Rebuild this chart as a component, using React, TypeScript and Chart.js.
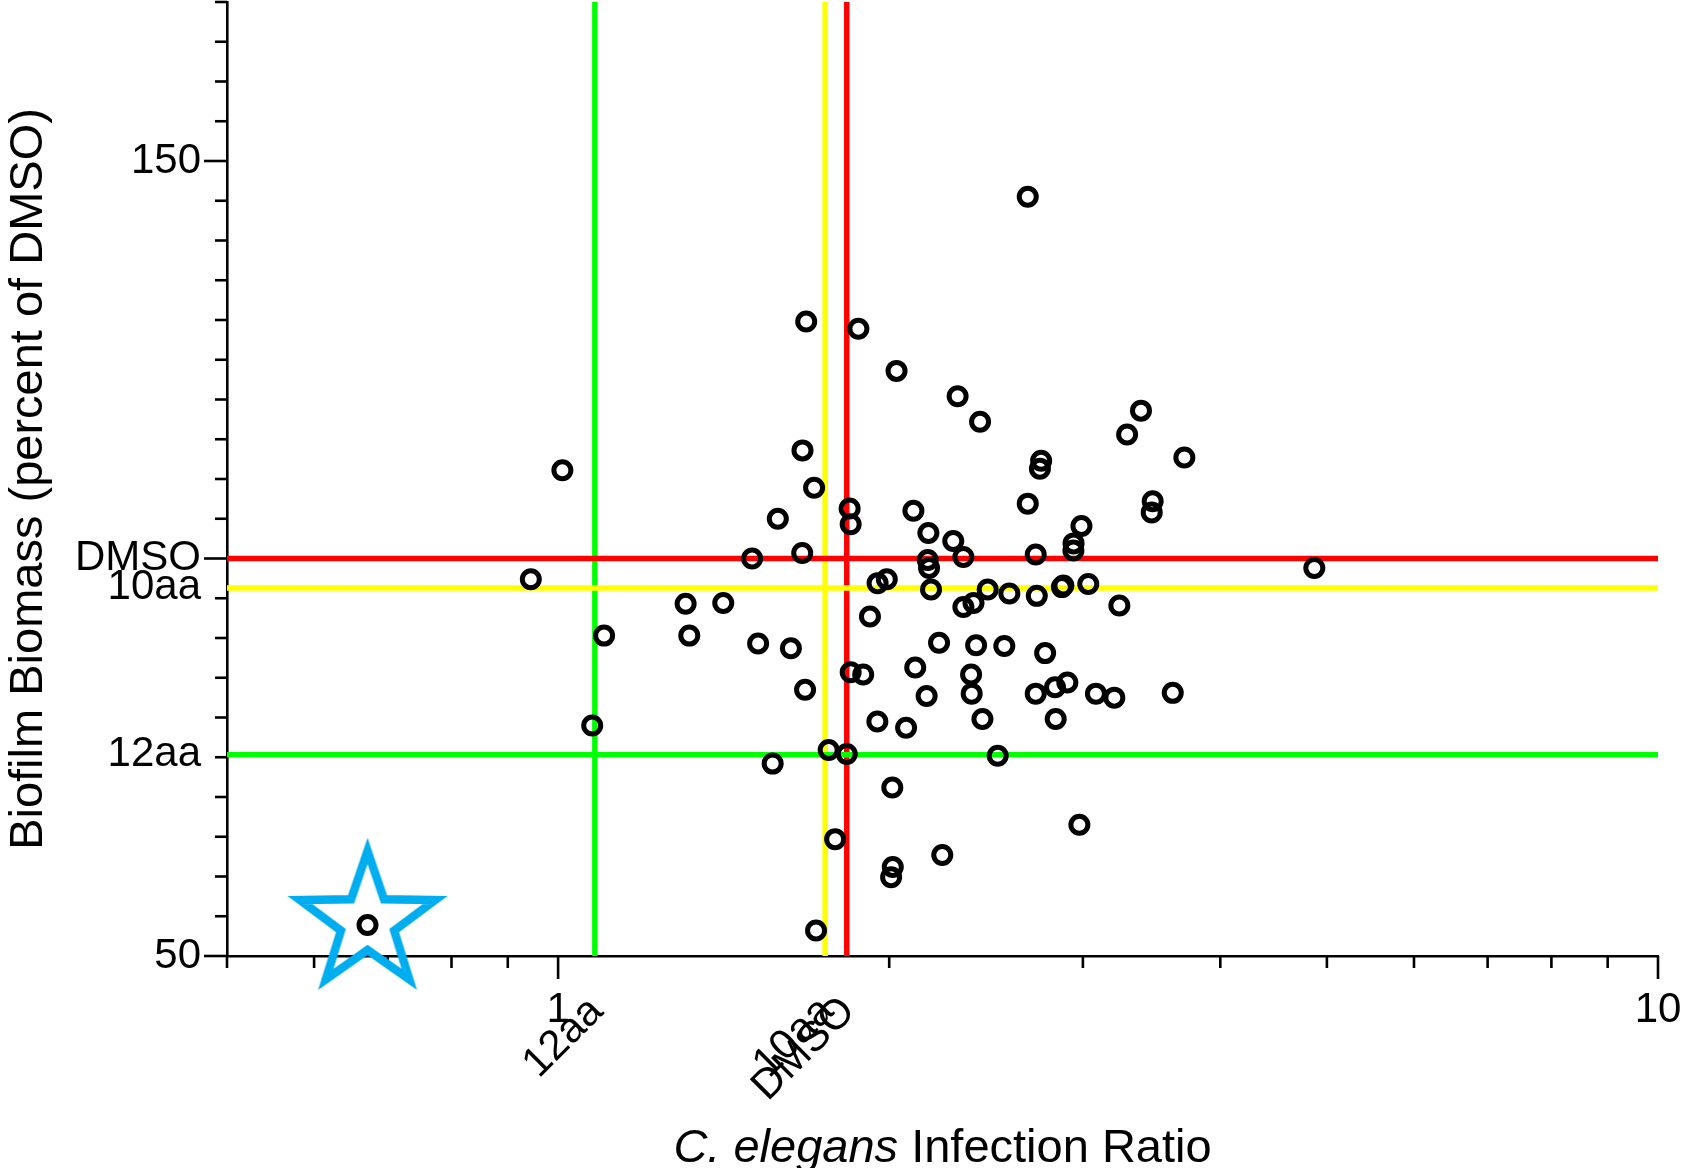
import React, { useEffect, useRef } from 'react';
import { Chart, registerables } from 'chart.js';

Chart.register(...registerables);

// ---------------- data ----------------
const infectionRatio: number[] = [
  2.673, 1.681, 1.875, 2.031, 2.308, 2.419, 3.388, 3.291, 3.710, 1.009,
  1.668, 2.749, 2.742, 1.709, 2.673, 1.841, 2.104, 3.472, 3.465, 1.584,
  1.845, 2.991, 2.171, 2.287, 2.942, 2.941, 1.501, 1.667, 2.168, 2.336,
  2.718, 2.174, 4.870, 0.9445, 1.990, 1.952, 3.034, 2.183, 2.458, 2.572,
  2.724, 2.871, 2.880, 2.386, 2.336, 1.306, 1.413, 3.238, 1.921, 1.101,
  1.316, 1.520, 1.628, 2.220, 2.399, 2.545, 2.772, 2.112, 1.845, 1.894,
  2.374, 1.677, 2.163, 2.377, 2.718, 2.830, 2.904, 3.083, 3.204, 3.621,
  2.431, 2.834, 1.951, 2.072, 1.074, 1.762, 1.830, 2.510, 1.567, 2.013,
  2.978, 1.786, 2.235, 2.015, 2.008, 1.716, 0.671,
];

const biofilmBiomass: number[] = [
  145.5, 129.8, 128.9, 123.6, 120.4, 117.2, 118.6, 115.6, 112.7, 111.1,
  113.6, 112.3, 111.3, 108.9, 106.9, 106.3, 106.0, 107.2, 105.8, 105.0,
  104.3, 104.1, 103.2, 102.2, 101.9, 101.0, 100.0, 100.7, 99.8, 100.2,
  100.5, 98.8, 98.8, 97.4, 97.4, 96.9, 96.8, 96.1, 96.1, 95.6,
  95.3, 96.4, 96.6, 94.4, 93.9, 94.3, 94.4, 94.1, 92.7, 90.3,
  90.3, 89.3, 88.7, 89.4, 89.1, 89.0, 88.1, 86.3, 85.7, 85.4,
  85.4, 83.5, 82.7, 83.0, 83.0, 83.8, 84.4, 83.0, 82.5, 83.1,
  79.8, 79.8, 79.5, 78.7, 79.0, 75.9, 75.4, 75.2, 74.2, 71.2,
  66.5, 64.7, 62.7, 61.2, 59.9, 53.2, 53.9,
];

// index of the starred compound
const highlightedIndex = 86;

// control compounds (reference lines)
const referenceNames: string[] = ['DMSO', '10aa', '12aa'];
const referenceInfection: number[] = [1.83, 1.749, 1.08];
const referenceBiofilm: number[] = [100, 96.3, 75.3];

// axes
const xRange: number[] = [0.5, 10];
const yRange: number[] = [50, 170];
const xTickValues: number[] = [1, 10];
const xTickLabels: string[] = ['1', '10'];
const xMinorTickValues: number[] = [0.5, 0.6, 0.7, 0.8, 0.9, 2, 3, 4, 5, 6, 7, 8, 9];
const yTickValues: number[] = [50, 150];
const yTickLabels: string[] = ['50', '150'];
const yMajorTickValues: number[] = [50, 100, 150];
const yMinorTickValues: number[] = [
  55, 60, 65, 70, 75, 80, 85, 90, 95, 105, 110, 115, 120, 125, 130, 135, 140, 145, 155, 160, 165, 170,
];

const yTitle = 'Biofilm Biomass (percent of DMSO)';
const xTitleItalic = 'C. elegans';
const xTitleRest = ' Infection Ratio';

// ---------------- styling ----------------
const FONT = '"Liberation Sans", Arial, Helvetica, sans-serif';
const TICK_SIZE = 42;
const TITLE_SIZE = 47;
const REF_COLORS: Record<string, string> = { DMSO: '#ff0000', '10aa': '#ffff00', '12aa': '#00ff00' };
const STAR_COLOR = '#00aeef';

function makeStarCanvas(): HTMLCanvasElement {
  const size = 210;
  const c = document.createElement('canvas');
  c.width = size;
  c.height = size;
  const g = c.getContext('2d') as CanvasRenderingContext2D;
  const cx = size / 2;
  const cy = size / 2 - 3;
  const R = 71;
  const r = 28;
  g.beginPath();
  for (let k = 0; k < 10; k++) {
    const ang = -Math.PI / 2 + (k * Math.PI) / 5;
    const rad = k % 2 === 0 ? R : r;
    const px = cx + rad * Math.cos(ang);
    const py = cy + rad * Math.sin(ang);
    if (k === 0) g.moveTo(px, py);
    else g.lineTo(px, py);
  }
  g.closePath();
  g.lineWidth = 8.5;
  g.lineJoin = 'miter';
  g.miterLimit = 10;
  g.strokeStyle = STAR_COLOR;
  g.stroke();
  return c;
}

const axisDecor = {
  id: 'axisDecor',
  beforeDatasetsDraw(chart: any) {
    const { ctx, chartArea, scales } = chart;
    const xs = scales.x;
    const ys = scales.y;
    ctx.save();
    ctx.strokeStyle = '#000';
    ctx.lineWidth = 2.6;
    ctx.lineCap = 'butt';
    const bottom = chartArea.bottom;
    const left = chartArea.left;
    const xTick = (v: number, len: number) => {
      const p = xs.getPixelForValue(v);
      ctx.beginPath();
      ctx.moveTo(p, bottom);
      ctx.lineTo(p, bottom + len);
      ctx.stroke();
    };
    const yTick = (v: number, len: number) => {
      const p = ys.getPixelForValue(v);
      ctx.beginPath();
      ctx.moveTo(left, p);
      ctx.lineTo(left - len, p);
      ctx.stroke();
    };
    xMinorTickValues.forEach((v) => xTick(v, 12));
    xTickValues.forEach((v) => xTick(v, 23));
    yMinorTickValues.forEach((v) => yTick(v, 12));
    yMajorTickValues.forEach((v) => yTick(v, 23));
    ctx.restore();
  },
  afterDraw(chart: any) {
    const { ctx, chartArea, scales } = chart;
    const xs = scales.x;
    ctx.save();
    ctx.fillStyle = '#000';
    // rotated labels for the control compounds on the x axis
    ctx.font = `${TICK_SIZE}px ${FONT}`;
    ctx.textAlign = 'right';
    ctx.textBaseline = 'alphabetic';
    referenceNames.forEach((name, i) => {
      const p = xs.getPixelForValue(referenceInfection[i]);
      ctx.save();
      ctx.translate(p + 10, chartArea.bottom + 57);
      ctx.rotate(-Math.PI / 4);
      ctx.fillText(name, 0, 0);
      ctx.restore();
    });
    // x axis title with italic species name
    const italic = `italic ${TITLE_SIZE}px ${FONT}`;
    const normal = `${TITLE_SIZE}px ${FONT}`;
    ctx.font = italic;
    const w1 = ctx.measureText(xTitleItalic).width;
    ctx.font = normal;
    const w2 = ctx.measureText(xTitleRest).width;
    const cx = (chartArea.left + chartArea.right) / 2;
    const start = cx - (w1 + w2) / 2;
    const base = chartArea.bottom + 206;
    ctx.textAlign = 'left';
    ctx.font = italic;
    ctx.fillText(xTitleItalic, start, base);
    ctx.font = normal;
    ctx.fillText(xTitleRest, start + w1, base);
    ctx.restore();
  },
};

export default function App() {
  const canvasRef = useRef<HTMLCanvasElement | null>(null);

  useEffect(() => {
    const canvas = canvasRef.current;
    if (!canvas) return;

    const star = makeStarCanvas();
    const points = infectionRatio.map((x, i) => ({ x, y: biofilmBiomass[i] }));

    const yLabelPairs = yTickValues
      .map((v, i) => ({ v, t: yTickLabels[i] }))
      .concat(referenceBiofilm.map((v, i) => ({ v, t: referenceNames[i] })))
      .sort((a, b) => a.v - b.v);

    const datasets: any[] = [
      {
        type: 'scatter',
        label: 'Compounds',
        data: points,
        order: 0,
        showLine: false,
        borderColor: '#000',
        backgroundColor: 'rgba(0,0,0,0)',
        borderWidth: 5,
        pointStyle: 'circle',
        pointRadius: 8.5,
        pointHoverRadius: 8.5,
        pointBorderWidth: 5,
        pointHoverBorderWidth: 5,
        pointBorderColor: '#000',
        pointBackgroundColor: 'rgba(0,0,0,0)',
      },
      {
        type: 'scatter',
        label: 'Highlighted',
        data: [points[highlightedIndex]],
        order: 1,
        showLine: false,
        clip: false,
        pointStyle: star,
        pointRadius: 10,
        pointBorderWidth: 0,
      },
    ];

    referenceNames.forEach((name, i) => {
      datasets.push({
        type: 'line',
        label: `${name} biofilm`,
        data: [
          { x: xRange[0], y: referenceBiofilm[i] },
          { x: xRange[1], y: referenceBiofilm[i] },
        ],
        borderColor: REF_COLORS[name],
        borderWidth: 5.5,
        pointRadius: 0,
        fill: false,
        tension: 0,
        order: 2,
      });
      datasets.push({
        type: 'line',
        label: `${name} infection`,
        data: [
          { x: referenceInfection[i], y: yRange[0] },
          { x: referenceInfection[i], y: yRange[1] },
        ],
        borderColor: REF_COLORS[name],
        borderWidth: 5.5,
        pointRadius: 0,
        fill: false,
        tension: 0,
        order: 3,
      });
    });

    const chart = new Chart(canvas, {
      type: 'scatter',
      data: { datasets },
      options: {
        responsive: false,
        animation: false,
        devicePixelRatio: 1,
        events: [],
        layout: { autoPadding: false, padding: { top: 2, right: 25, left: 0, bottom: 0 } },
        elements: {
          point: { borderWidth: 5, radius: 8.5 },
        },
        plugins: {
          legend: { display: false },
          tooltip: { enabled: false },
        },
        scales: {
          x: {
            type: 'logarithmic',
            position: 'bottom',
            min: xRange[0],
            max: xRange[1],
            grid: { display: false, drawTicks: false },
            border: { display: true, color: '#000', width: 2.6 },
            ticks: {
              autoSkip: false,
              maxRotation: 0,
              minRotation: 0,
              padding: 29,
              color: '#000',
              font: { family: FONT, size: TICK_SIZE },
              callback: (value: any) => {
                const idx = xTickValues.indexOf(Number(value));
                return idx >= 0 ? xTickLabels[idx] : null;
              },
            },
            afterBuildTicks: (scale: any) => {
              scale.ticks = xTickValues.map((v) => ({ value: v }));
            },
            afterFit: (scale: any) => {
              scale.height = 212;
              scale.paddingLeft = 0;
              scale.paddingRight = 0;
            },
          },
          y: {
            type: 'linear',
            position: 'left',
            min: yRange[0],
            max: yRange[1],
            grid: { display: false, drawTicks: false },
            border: { display: true, color: '#000', width: 2.6 },
            title: {
              display: true,
              text: yTitle,
              color: '#000',
              font: { family: FONT, size: TITLE_SIZE },
              padding: { top: 1, bottom: 0 },
            },
            ticks: {
              autoSkip: false,
              padding: 26,
              color: '#000',
              font: { family: FONT, size: TICK_SIZE },
              callback: (_value: any, index: number) => yLabelPairs[index]?.t ?? null,
            },
            afterBuildTicks: (scale: any) => {
              scale.ticks = yLabelPairs.map((p) => ({ value: p.v }));
            },
            afterFit: (scale: any) => {
              scale.width = 227;
              scale.paddingTop = 0;
              scale.paddingBottom = 0;
            },
          },
        },
      } as any,
      plugins: [axisDecor],
    });

    return () => chart.destroy();
  }, []);

  return (
    <div
      style={{
        position: 'absolute',
        left: 0,
        top: 0,
        width: 1683,
        height: 1168,
        overflow: 'hidden',
        background: '#ffffff',
      }}
    >
      <canvas ref={canvasRef} width={1683} height={1168} style={{ display: 'block', width: 1683, height: 1168 }} />
    </div>
  );
}
